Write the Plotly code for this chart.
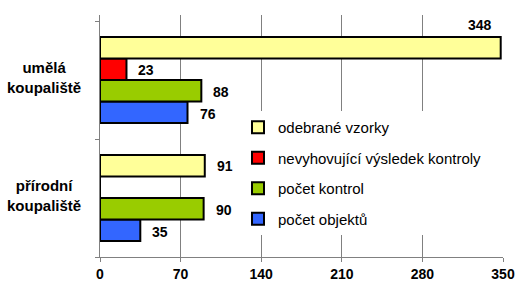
import plotly.graph_objects as go

categories = ["přírodní koupaliště", "umělá koupaliště"]
category_labels = ["přírodní<br>koupaliště", "umělá<br>koupaliště"]
series_names = ["počet objektů", "počet kontrol", "nevyhovující výsledek kontroly", "odebrané vzorky"]
series_values = [
    [35, 76],    # počet objektů
    [90, 88],    # počet kontrol
    [0, 23],     # nevyhovující výsledek kontroly
    [91, 348],   # odebrané vzorky
]
series_colors = ["#3366FF", "#99CC00", "#FF0000", "#FFFF99"]
x_ticks = [0, 70, 140, 210, 280, 350]

FONT = "Liberation Sans, Arial, sans-serif"

fig = go.Figure()
n = len(series_names)
for i, (name, vals, col) in enumerate(zip(series_names, series_values, series_colors)):
    fig.add_trace(go.Bar(
        y=categories, x=vals, name=name, orientation="h",
        marker=dict(color=col, line=dict(color="black", width=2)),
        legendgroup=f"g{i}", legendrank=n - i,
    ))

# data labels
offsets = [-33, -11, 11, 33]
annotations = []
for i, vals in enumerate(series_values):
    for cat, v in zip(categories, vals):
        if v == 0:
            continue
        if v > 300:
            annotations.append(dict(x=v, y=cat, xref="x", yref="y", text=f"<b>{v}</b>",
                                    showarrow=False, xanchor="right", yanchor="middle",
                                    xshift=-7, yshift=offsets[i] + 22,
                                    font=dict(size=14, color="black", family=FONT)))
        else:
            annotations.append(dict(x=v, y=cat, xref="x", yref="y", text=f"<b>{v}</b>",
                                    showarrow=False, xanchor="left", yanchor="middle",
                                    xshift=10, yshift=offsets[i] - 1,
                                    font=dict(size=14, color="black", family=FONT)))
for cat, lab in zip(categories, category_labels):
    annotations.append(dict(x=(44 - 100) / 403.0, xref="paper", y=cat, yref="y", text=f"<b>{lab}</b>",
                            showarrow=False, xanchor="center", yanchor="middle", align="center",
                            font=dict(size=15, color="black", family=FONT),
                            yshift=3))

fig.update_layout(
    width=526, height=296,
    margin=dict(l=100, r=23, t=15, b=39),
    paper_bgcolor="white", plot_bgcolor="white",
    barmode="group", bargap=0.27, bargroupgap=0,
    showlegend=True,
    legend=dict(x=(238 - 100) / 403.0, y=(257 - 111) / 242.0, xanchor="left", yanchor="top",
                bgcolor="white", borderwidth=0, traceorder="grouped",
                tracegroupgap=8,
                font=dict(size=15, color="black", family=FONT)),
    annotations=annotations,
    xaxis=dict(range=[0, 350], tickvals=x_ticks, ticktext=[f"<b>{t}</b>" for t in x_ticks],
               showgrid=True, gridcolor="#808080", gridwidth=1,
               showline=True, linecolor="#808080", linewidth=1,
               ticks="outside", ticklen=4, tickcolor="#808080",
               tickfont=dict(size=14, color="black", family=FONT),
               zeroline=False, fixedrange=True),
    yaxis=dict(categoryorder="array", categoryarray=categories, type="category",
               showticklabels=False, tickson="boundaries", ticks="outside", ticklen=4,
               tickcolor="#808080", showline=True, linecolor="#808080", linewidth=1,
               showgrid=False, zeroline=False, fixedrange=True),
)

fig.write_html("out.html")
